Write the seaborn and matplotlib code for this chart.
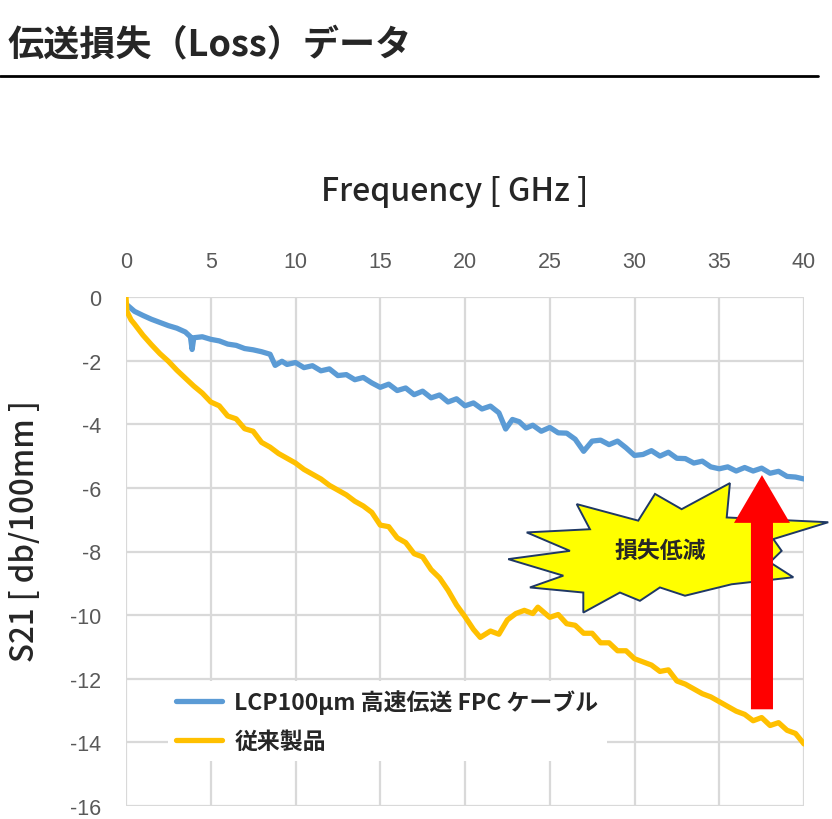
#!/usr/bin/env python3
import pandas as pd
import matplotlib
matplotlib.use('Agg')
import matplotlib.pyplot as plt
import seaborn as sns
from matplotlib.patches import Polygon, FancyArrow
from matplotlib.lines import Line2D

# ─── Datos ────────────────────────────────────────────────────────────────────
FREQ_LCP = [0.0, 0.5, 1.0, 1.5, 2.0, 2.5, 3.0, 3.5, 3.8, 3.9, 4.0, 4.5, 5.0, 5.5,
            6.0, 6.5, 7.0, 7.5, 8.0, 8.5, 8.8, 9.2, 9.5, 10.0, 10.5, 11.0, 11.5,
            12.0, 12.5, 13.0, 13.5, 14.0, 14.5, 15.0, 15.5, 16.0, 16.5, 17.0,
            17.5, 18.0, 18.5, 19.0, 19.5, 20.0, 20.5, 21.0, 21.5, 22.0, 22.4,
            22.8, 23.2, 23.6, 24.0, 24.5, 25.0, 25.5, 26.0, 26.5, 27.0, 27.5,
            28.0, 28.5, 29.0, 29.5, 30.0, 30.5, 31.0, 31.5, 32.0, 32.5, 33.0,
            33.5, 34.0, 34.5, 35.0, 35.5, 36.0, 36.5, 37.0, 37.5, 38.0, 38.5,
            39.0, 39.5, 40.0]
LOSS_LCP = [-0.22, -0.45, -0.58, -0.70, -0.80, -0.90, -0.98, -1.10, -1.25, -1.65,
            -1.28, -1.25, -1.33, -1.38, -1.48, -1.52, -1.62, -1.66, -1.72, -1.80,
            -2.15, -2.02, -2.12, -2.06, -2.22, -2.16, -2.32, -2.26, -2.47, -2.44,
            -2.60, -2.53, -2.70, -2.84, -2.74, -2.94, -2.86, -3.07, -2.96, -3.17,
            -3.08, -3.30, -3.20, -3.42, -3.33, -3.52, -3.43, -3.64, -4.15, -3.85,
            -3.92, -4.12, -4.03, -4.22, -4.10, -4.27, -4.28, -4.47, -4.85, -4.53,
            -4.50, -4.64, -4.53, -4.74, -4.98, -4.95, -4.83, -5.00, -4.88, -5.07,
            -5.08, -5.22, -5.16, -5.34, -5.40, -5.34, -5.47, -5.36, -5.47, -5.38,
            -5.54, -5.48, -5.64, -5.66, -5.72]

FREQ_OLD = [0.0, 0.05, 0.3, 0.5, 1.0, 1.5, 2.0, 2.5, 3.0, 3.5, 4.0, 4.5, 5.0, 5.5,
            6.0, 6.5, 7.0, 7.5, 8.0, 8.5, 9.0, 9.5, 10.0, 10.5, 11.0, 11.5, 12.0,
            12.5, 13.0, 13.5, 14.0, 14.5, 15.0, 15.5, 16.0, 16.5, 17.0, 17.5,
            18.0, 18.5, 19.0, 19.5, 20.0, 20.5, 20.9, 21.5, 22.0, 22.5, 23.0,
            23.5, 24.0, 24.3, 25.0, 25.5, 26.0, 26.5, 27.0, 27.5, 28.0, 28.5,
            29.0, 29.5, 30.0, 30.5, 31.0, 31.5, 32.0, 32.5, 33.0, 33.5, 34.0,
            34.5, 35.0, 35.5, 36.0, 36.5, 37.0, 37.5, 38.0, 38.5, 39.0, 39.5, 40.0]
LOSS_OLD = [0.0, -0.45, -0.72, -0.85, -1.20, -1.50, -1.78, -2.02, -2.30, -2.55,
            -2.80, -3.02, -3.30, -3.42, -3.74, -3.83, -4.14, -4.22, -4.57, -4.72,
            -4.92, -5.07, -5.22, -5.42, -5.57, -5.72, -5.92, -6.07, -6.22, -6.42,
            -6.57, -6.77, -7.17, -7.22, -7.57, -7.72, -8.07, -8.17, -8.57, -8.83,
            -9.22, -9.68, -10.05, -10.45, -10.70, -10.50, -10.60, -10.15, -9.95,
            -9.85, -9.95, -9.75, -10.07, -9.98, -10.27, -10.32, -10.57, -10.57,
            -10.87, -10.87, -11.12, -11.12, -11.37, -11.47, -11.57, -11.77,
            -11.72, -12.07, -12.17, -12.32, -12.47, -12.57, -12.72, -12.87,
            -13.02, -13.12, -13.32, -13.22, -13.47, -13.38, -13.62, -13.72, -14.05]

LABEL_LCP = 'LCP100μm 高速伝送 FPC ケーブル'
LABEL_OLD = '従来製品'
X_TICKS = [0, 5, 10, 15, 20, 25, 30, 35, 40]
Y_TICKS = [0, -2, -4, -6, -8, -10, -12, -14, -16]

# ─── Estilo ───────────────────────────────────────────────────────────────────
sns.set_style('white')
plt.rcParams['font.family'] = ['Noto Sans CJK JP', 'DejaVu Sans']

BLUE = '#5B9BD5'
ORANGE = '#FFC000'
GRID = '#D9D9D9'

fig = plt.figure(figsize=(8.32, 8.20), dpi=100)
ax = fig.add_axes([126 / 832, 13 / 820, 678 / 832, 509 / 820])

df_lcp = pd.DataFrame({'freq': FREQ_LCP, 'loss': LOSS_LCP})
df_old = pd.DataFrame({'freq': FREQ_OLD, 'loss': LOSS_OLD})

sns.lineplot(data=df_lcp, x='freq', y='loss', ax=ax, color=BLUE, linewidth=3.8,
             label=LABEL_LCP, zorder=3, solid_joinstyle='round')
sns.lineplot(data=df_old, x='freq', y='loss', ax=ax, color=ORANGE, linewidth=3.8,
             label=LABEL_OLD, zorder=3, solid_joinstyle='round')

ax.set_xlim(0, 40)
ax.set_ylim(-16, 0)
ax.set_xticks(X_TICKS)
ax.set_yticks(Y_TICKS)
ax.set_xticklabels([str(v) for v in X_TICKS], family='Liberation Sans')
ax.set_yticklabels([str(v) for v in Y_TICKS], family='Liberation Sans')
ax.xaxis.tick_top()
ax.tick_params(axis='both', length=0, labelsize=15.5, labelcolor='#595959')
ax.tick_params(axis='x', pad=18)
ax.tick_params(axis='y', pad=18)
ax.set_xlabel('')
ax.set_ylabel('')
ax.grid(True, color=GRID, linewidth=1.6)
ax.set_axisbelow(True)
for s in ax.spines.values():
    s.set_visible(False)

leg = ax.legend(loc='lower left', bbox_to_anchor=(0.062, 0.088), frameon=True,
                facecolor='white', edgecolor='none', framealpha=1, fancybox=False,
                borderaxespad=0, borderpad=0.35, handlelength=2.0,
                handletextpad=0.55, labelspacing=0.7,
                prop={'family': ['Noto Sans CJK JP', 'DejaVu Sans'],
                      'size': 16.5, 'weight': 'bold'})
for line in leg.get_lines():
    line.set_linewidth(3.8)

# ─── Anotación: estrella + flecha ─────────────────────────────────────────────
STAR = [(26.59, -6.51), (30.22, -7.03), (31.21, -6.19), (32.78, -6.67),
        (35.63, -5.85), (35.44, -6.93), (41.43, -7.08), (38.19, -7.61),
        (38.68, -7.98), (37.99, -8.34), (39.37, -8.81), (35.73, -9.03),
        (32.98, -9.39), (31.50, -9.13), (30.32, -9.55), (29.14, -9.29),
        (26.98, -9.92), (26.98, -9.29), (23.83, -9.13), (25.80, -8.76),
        (22.55, -8.24), (26.19, -7.98), (23.64, -7.40), (27.37, -7.30)]
ax.add_patch(Polygon(STAR, closed=True, facecolor='#FFFF00', edgecolor='#1F3864',
                     linewidth=1.4, clip_on=False, zorder=4))
ax.text(31.5, -7.96, '損失低減', ha='center', va='center', fontsize=16.5,
        weight='bold', zorder=6)
ax.add_patch(FancyArrow(37.52, -12.96, 0, 7.36, width=1.3, head_width=3.3,
                        head_length=1.5, length_includes_head=True,
                        color='#FF0000', linewidth=0, zorder=5))

# ─── Textos de la figura ──────────────────────────────────────────────────────
fig.text(8 / 832, 1 - 46 / 820, '伝送損失（Loss）データ', fontsize=26,
         weight='bold', ha='left', va='center')
fig.add_artist(Line2D([0, 818 / 832], [1 - 77 / 820, 1 - 77 / 820],
                      color='black', linewidth=2))
fig.text(455 / 832, 1 - 192 / 820, 'Frequency [ GHz ]', fontsize=23,
         weight='medium', ha='center', va='center')
fig.text(25 / 832, 1 - 531 / 820, 'S21 [ db/100mm ]', fontsize=22.5,
         weight='medium', rotation=90, ha='center', va='center')

fig.savefig('out.png', dpi=100)
